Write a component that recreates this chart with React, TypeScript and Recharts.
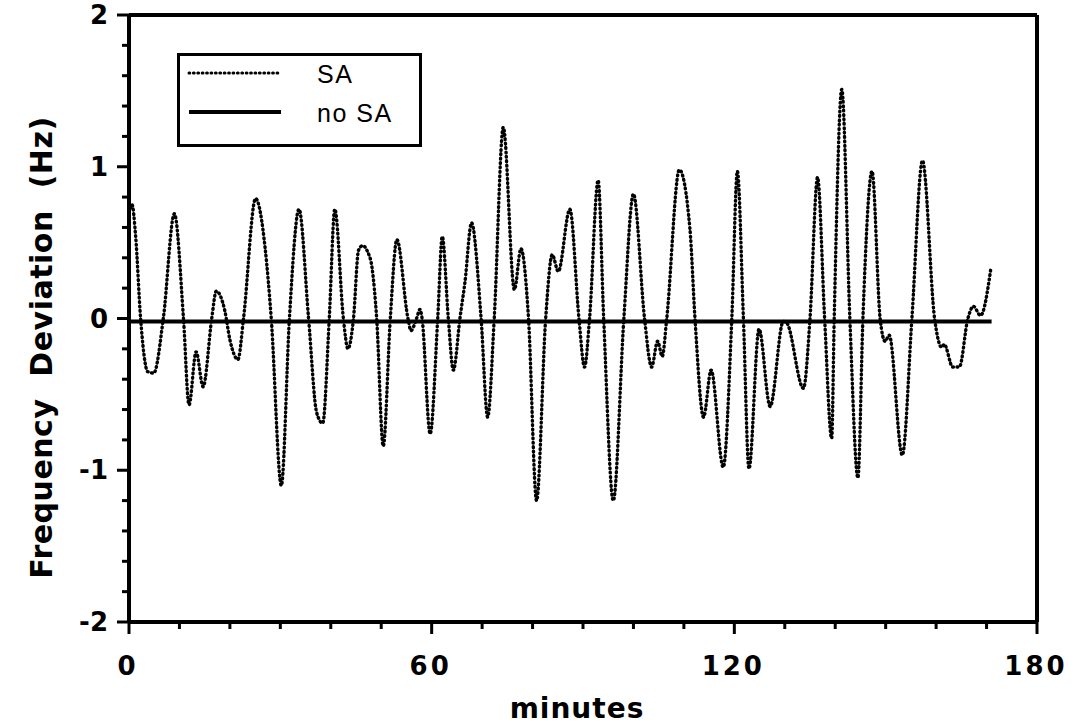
import { LineChart, Line, XAxis, YAxis, Legend, ReferenceLine } from 'recharts';

// SA trace (minutes, Hz)
const saMinutes = [
  0, 0.6, 1.3, 2.3, 3.7, 4.9, 6.8, 9.0, 10.8, 11.9, 13.3, 14.7, 16.4, 17.3, 19.0, 20.0,
  21.6, 22.7, 25.1, 27.0, 28.2, 30.2, 31.8, 33.7, 35.6, 37.2, 38.4, 39.7, 40.8, 42.5,
  43.4, 44.5, 45.5, 46.3, 47.3, 48.2, 49.1, 50.4, 51.8, 53.1, 55.3, 55.9, 57.0, 57.7,
  58.1, 59.7, 61.2, 62.1, 63.3, 64.3, 65.6, 66.6, 67.9, 69.8, 71.1, 72.4, 74.2, 76.4,
  77.7, 79.2, 80.8, 82.6, 83.9, 85.1, 87.4, 89.2, 90.3, 91.3, 93.0, 94.1, 96.0, 98.1,
  100.0, 102.2, 103.6, 104.8, 105.7, 106.6, 109.1, 111.2, 112.2, 113.9, 115.4, 117.8,
  119.5, 120.6, 121.8, 122.9, 124.9, 127.1, 129.7, 130.4, 133.7, 135.0, 136.5, 137.9,
  139.3, 139.8, 141.3, 142.9, 144.5, 145.5, 147.3, 148.9, 149.9, 150.7, 153.3, 155.2,
  157.3, 159.7, 161.1, 161.6, 163.3, 164.6, 166.3, 167.4, 168.8, 170.9,
];
const saHz = [
  0.7, 0.75, 0.55, 0, -0.35, -0.36, 0, 0.69, 0, -0.57, -0.22, -0.45, 0, 0.18, 0.05, -0.14,
  -0.27, 0, 0.79, 0.46, 0, -1.1, 0, 0.72, 0, -0.62, -0.69, 0, 0.72, 0,
  -0.2, 0, 0.45, 0.48, 0.44, 0.33, 0, -0.84, 0, 0.52, 0, -0.08, 0, 0.06,
  0, -0.76, 0, 0.54, 0, -0.34, 0, 0.24, 0.63, 0, -0.65, 0, 1.26, 0.19,
  0.46, 0, -1.2, 0, 0.42, 0.31, 0.72, 0, -0.32, 0, 0.91, 0, -1.2, 0,
  0.82, 0, -0.32, -0.15, -0.25, 0, 0.98, 0.59, 0, -0.65, -0.34, -0.98,
  0, 0.97, 0, -0.99, -0.07, -0.58, -0.02, -0.03, -0.46, 0, 0.93, 0,
  -0.79, 0, 1.51, 0, -1.05, 0.01, 0.97, 0, -0.15, -0.11, -0.9, 0,
  1.04, 0, -0.19, -0.17, -0.32, -0.32, 0, 0.08, 0.02, 0.34,
];

// no SA trace sits just under zero
const noSaMinutes = [0, 171];
const noSaHz = [-0.02, -0.02];

const xTicks = [0, 10, 20, 30, 40, 50, 60, 70, 80, 90, 100, 110, 120, 130, 140, 150, 160, 170, 180];
const xLabelTicks = [0, 60, 120, 180];
const yTicks = [-2, -1.8, -1.6, -1.4, -1.2, -1, -0.8, -0.6, -0.4, -0.2, 0, 0.2, 0.4, 0.6, 0.8, 1, 1.2, 1.4, 1.6, 1.8, 2];
const yLabelTicks = [-2, -1, 0, 1, 2];

const saData = saMinutes.map((t, i) => ({ t, hz: saHz[i] }));
const noSaData = noSaMinutes.map((t, i) => ({ t, hz: noSaHz[i] }));

const BOLD = '"DejaVu Sans", sans-serif';
const PLAIN = '"Liberation Sans", Arial, sans-serif';
const DOTS = '0.8 3.6';

function XTick(props: any) {
  const { x, y, payload } = props;
  const major = xLabelTicks.includes(payload.value);
  return (
    <g>
      <line x1={x} y1={y} x2={x} y2={y + (major ? 12 : 7)} stroke="#000" strokeWidth={3} />
      {major && (
        <text x={x - 1} y={y + 53} textAnchor="middle" fontFamily={BOLD} fontWeight="bold" fontSize={26} letterSpacing={3} fill="#000">
          {payload.value}
        </text>
      )}
    </g>
  );
}

function YTick(props: any) {
  const { x, y, payload } = props;
  const major = yLabelTicks.some((v) => Math.abs(v - payload.value) < 1e-6);
  return (
    <g>
      <line x1={x - (major ? 12 : 7)} y1={y} x2={x} y2={y} stroke="#000" strokeWidth={3} />
      {major && (
        <text x={x - 21} y={y + 9} textAnchor="end" fontFamily={BOLD} fontWeight="bold" fontSize={26} fill="#000">
          {Math.round(payload.value)}
        </text>
      )}
    </g>
  );
}

function LegendBox(props: any) {
  const items = props.payload || [];
  return (
    <svg width={245} height={94} style={{ display: 'block' }}>
      <rect x={1.5} y={1.5} width={242} height={91} fill="#fff" stroke="#000" strokeWidth={3} />
      {items.map((entry: any, i: number) => {
        const ly = 20 + i * 39;
        const dotted = i === 0;
        return (
          <g key={entry.value}>
            <line
              x1={12}
              y1={ly}
              x2={104}
              y2={ly}
              stroke="#000"
              strokeWidth={dotted ? 3 : 4}
              strokeDasharray={dotted ? DOTS : undefined}
              strokeLinecap={dotted ? 'round' : 'butt'}
            />
            <text x={140} y={ly + 10} fontFamily={PLAIN} fontSize={25} letterSpacing={1.5} fill="#000">
              {entry.value}
            </text>
          </g>
        );
      })}
    </svg>
  );
}

export default function App() {
  return (
    <div style={{ position: 'absolute', left: 0, top: 0, width: 1076, height: 726, background: '#fff' }}>
      <LineChart width={1076} height={726} margin={{ top: 15, right: 39, left: 0, bottom: 0 }}>
        <XAxis
          type="number"
          dataKey="t"
          domain={[0, 180]}
          ticks={xTicks}
          interval={0}
          height={104}
          tickSize={0}
          tickMargin={0}
          tickLine={false}
          axisLine={{ stroke: '#000', strokeWidth: 4 }}
          tick={(p: any) => <XTick {...p} />}
          label={{
            content: (p: any) => {
              const vb = p.viewBox;
              return (
                <text x={vb.x + vb.width / 2 - 6} y={vb.y + 96} textAnchor="middle" fontFamily={BOLD} fontWeight="bold" fontSize={28} letterSpacing={1} fill="#000">
                  minutes
                </text>
              );
            },
          }}
        />
        <YAxis
          type="number"
          dataKey="hz"
          domain={[-2, 2]}
          ticks={yTicks}
          interval={0}
          width={129}
          tickSize={0}
          tickMargin={0}
          tickLine={false}
          allowDataOverflow
          axisLine={{ stroke: '#000', strokeWidth: 4 }}
          tick={(p: any) => <YTick {...p} />}
          label={{
            content: (p: any) => {
              const vb = p.viewBox;
              const cx = vb.x + 41;
              const cy = vb.y + vb.height / 2 + 29;
              return (
                <text
                  x={cx}
                  y={cy}
                  transform={`rotate(-90 ${cx} ${cy})`}
                  textAnchor="middle"
                  dominantBaseline="central"
                  fontFamily={BOLD}
                  fontWeight="bold"
                  fontSize={30}
                  letterSpacing={0.5}
                  fill="#000"
                  style={{ whiteSpace: 'pre' }}
                >
                  {'Frequency  Deviation  (Hz)'}
                </text>
              );
            },
          }}
        />
        <ReferenceLine y={2} stroke="#000" strokeWidth={4} />
        <ReferenceLine x={180} stroke="#000" strokeWidth={4} />
        <Legend
          layout="vertical"
          align="center"
          verticalAlign="middle"
          content={(p: any) => <LegendBox {...p} />}
          wrapperStyle={{ position: 'absolute', left: 177, top: 53, width: 245, height: 94 }}
        />
        <Line
          data={saData}
          dataKey="hz"
          name="SA"
          type="monotone"
          stroke="#000"
          strokeWidth={3.4}
          strokeDasharray={DOTS}
          strokeLinecap="round"
          dot={false}
          activeDot={false}
          isAnimationActive={false}
        />
        <Line
          data={noSaData}
          dataKey="hz"
          name="no SA"
          type="linear"
          stroke="#000"
          strokeWidth={4}
          dot={false}
          activeDot={false}
          isAnimationActive={false}
        />
      </LineChart>
    </div>
  );
}
